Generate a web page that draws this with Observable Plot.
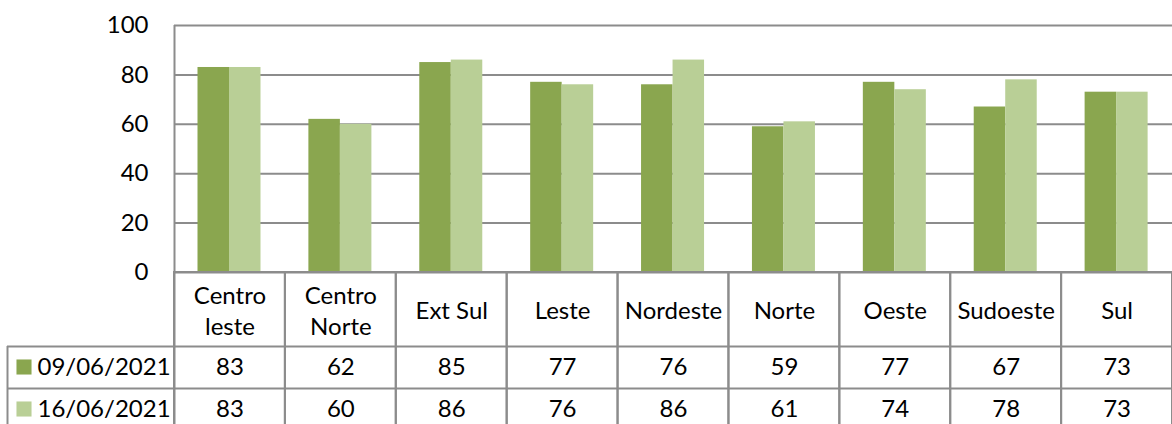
<!DOCTYPE html>
<html>
<head>
<meta charset="utf-8">
<script src="https://cdn.jsdelivr.net/npm/d3@7"></script>
<script src="https://cdn.jsdelivr.net/npm/@observablehq/plot@0.6"></script>
<style>
  html, body { margin: 0; padding: 0; background: #fff; overflow: hidden; }
  #chart svg { display: block; }
</style>
</head>
<body>
<div id="chart"></div>
<script>
// ---- data ----
const categories = ["Centro\nleste", "Centro\nNorte", "Ext Sul", "Leste", "Nordeste", "Norte", "Oeste", "Sudoeste", "Sul"];
const seriesNames = ["09/06/2021", "16/06/2021"];
const values0906 = [83, 62, 85, 77, 76, 59, 77, 67, 73];
const values1606 = [83, 60, 86, 76, 86, 61, 74, 78, 73];
const yTicks = [0, 20, 40, 60, 80, 100];
const seriesColors = ["#8aa64f", "#b9cf96"];

// ---- layout ----
const W = 1172, H = 424;
const ML = 174, MR = 0, MT = 25, MB = 152;
const plotH = H - MT - MB;               // 247
const step = (W - ML - MR) / categories.length;
const gray = "#8c8c8c";
const headerH = 74, rowH = 42;
const legendLeft = 7;                    // left edge of the table's legend column
const ext = legendLeft - ML;             // negative inset to reach the legend column

const seriesValues = [values0906, values1606];
const rows = seriesValues.map((vals, s) =>
  vals.map((v, i) => ({category: categories[i], series: seriesNames[s], value: v}))
);

// bar placement within a category band
const barW = 31.5, gap = 23.5;
const barInsets = [
  {insetLeft: gap, insetRight: step - gap - barW},
  {insetLeft: gap + barW, insetRight: step - gap - 2 * barW}
];

const marks = [];

// gridlines
marks.push(Plot.ruleY(yTicks, {stroke: gray, strokeWidth: 2}));

// bars
rows.forEach((r, s) => {
  marks.push(Plot.barY(r, {x: "category", y: "value", fill: seriesColors[s], ...barInsets[s]}));
});

// left edge of the plot area, continuing down through the table
marks.push(Plot.ruleX([categories[0]], {x: d => d, dx: -step / 2, stroke: gray, strokeWidth: 2, insetBottom: -(MB + 10)}));

// table cells (category columns)
marks.push(Plot.cell(categories, {x: d => d, fill: "none", stroke: gray, strokeWidth: 2, insetTop: plotH, insetBottom: -(MB + 10)}));

// table horizontal lines (row separators) extending into the legend column
marks.push(Plot.ruleY([0], {dy: headerH, stroke: gray, strokeWidth: 2, insetLeft: ext}));
marks.push(Plot.ruleY([0], {dy: headerH + rowH, stroke: gray, strokeWidth: 2, insetLeft: ext}));
// left border of legend column
marks.push(Plot.ruleX([categories[0]], {x: d => d, dx: -step / 2 + ext, stroke: gray, strokeWidth: 2, insetTop: plotH + headerH, insetBottom: -(MB + 10)}));

// header labels
marks.push(Plot.text(categories, {x: d => d, text: d => d, frameAnchor: "bottom", lineAnchor: "middle", dy: headerH / 2, lineHeight: 1.3, fill: "#000"}));

// row values + legend entries
rows.forEach((r, s) => {
  const dy = headerH + rowH * s + rowH / 2;
  marks.push(Plot.text(r, {x: "category", text: d => String(d.value), frameAnchor: "bottom", lineAnchor: "middle", dy, fill: "#000"}));
  marks.push(Plot.text([seriesNames[s]], {text: d => d, frameAnchor: "bottom-left", lineAnchor: "middle", dx: 37 - ML, dy, textAnchor: "start", fill: "#000"}));
  marks.push(Plot.dot([seriesNames[s]], {frameAnchor: "bottom-left", dx: 23.5 - ML, dy: dy - 0.5, symbol: "square", r: 8.5, fill: seriesColors[s], stroke: "none"}));
});

// y axis labels
marks.push(Plot.axisY(yTicks, {tickSize: 0, tickPadding: 26, label: null, fill: "#000"}));

const chart = Plot.plot({
  width: W,
  height: H,
  marginLeft: ML,
  marginRight: MR,
  marginTop: MT,
  marginBottom: MB,
  style: {fontFamily: "Lato, 'Open Sans', sans-serif", fontSize: "24px", color: "#000", background: "#fff", overflow: "visible"},
  x: {domain: categories, padding: 0, round: false, axis: null},
  y: {domain: [0, 100], axis: null},
  marks
});
document.getElementById("chart").appendChild(chart);
</script>
</body>
</html>
